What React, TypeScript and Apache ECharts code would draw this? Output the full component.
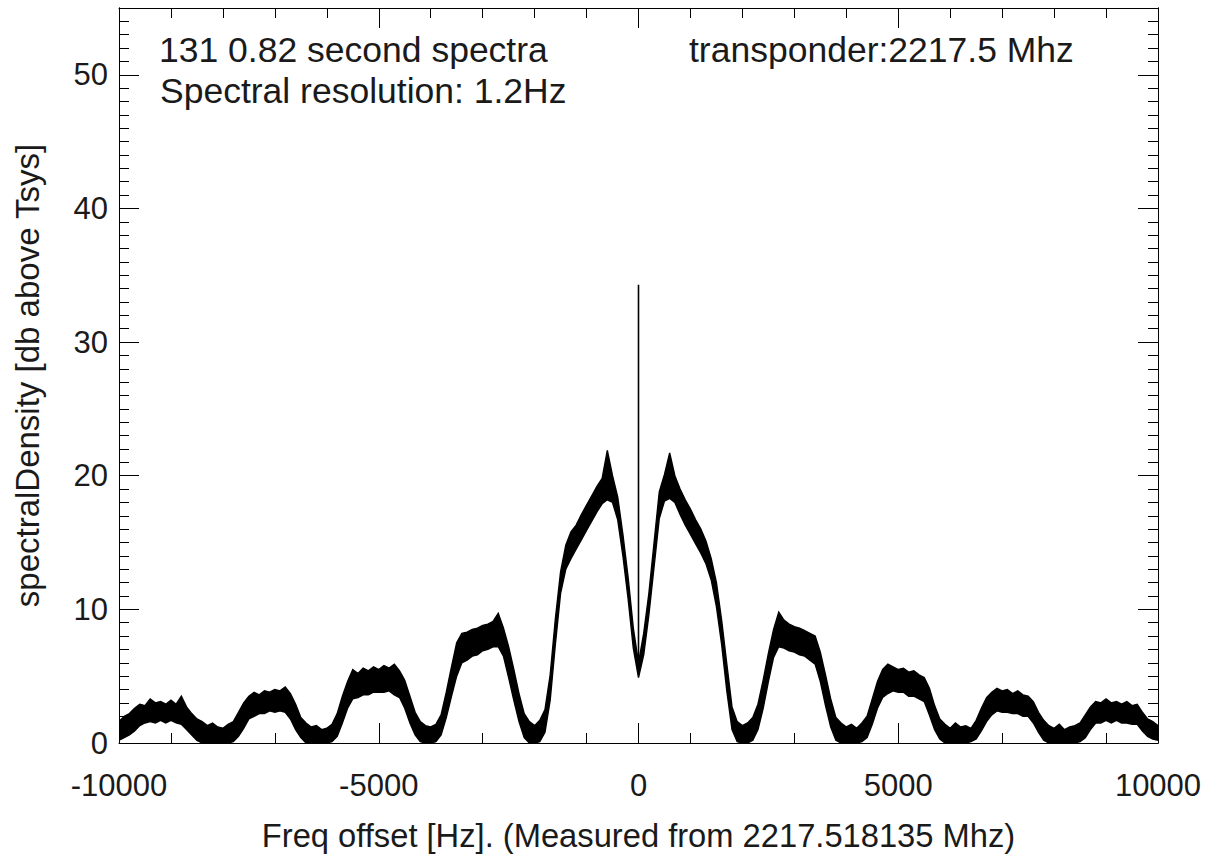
import React, { useEffect, useRef } from 'react';
import * as echarts from 'echarts';

// Frequency grid: -10000 Hz .. 10000 Hz, every 100 Hz
const FREQ_START = -10000;
const FREQ_STEP = 100;

// Lower edge of the noisy spectral band (dB above Tsys)
const LOWER = [
  0.2, 0.4, 0.6, 0.9, 1.3, 1.5, 1.6, 1.5, 1.7, 1.5,
  1.7, 1.5, 1.4, 1.0, 0.6, 0.2, 0.0, 0.0, 0.0, 0.0,
  0.0, 0.0, 0.1, 0.5, 1.1, 1.8, 2.0, 2.2, 2.2, 2.4,
  2.3, 2.4, 2.3, 1.8, 1.0, 0.4, 0.0, 0.0, 0.0, 0.0,
  0.0, 0.1, 0.5, 1.5, 2.6, 3.3, 3.4, 3.6, 3.6, 3.8,
  3.8, 3.8, 3.9, 3.6, 3.4, 2.6, 1.5, 0.6, 0.1, 0.0,
  0.0, 0.1, 0.6, 1.9, 3.5, 5.0, 6.0, 6.2, 6.5, 6.6,
  6.9, 7.0, 7.2, 7.2, 6.5, 4.9, 3.2, 1.6, 0.4, 0.0,
  0.0, 0.1, 0.8, 3.2, 7.4, 11.2, 13.0, 13.8, 14.5, 15.2,
  15.9, 16.6, 17.3, 17.9, 18.2, 18.0, 16.7, 14.0, 10.8, 7.1,
  4.9,
  6.6, 9.6, 13.2, 16.8, 18.1, 18.3, 18.0, 17.1, 16.3, 15.6,
  14.9, 14.2, 13.4, 12.2, 10.2, 7.4, 3.9, 1.0, 0.1, 0.0,
  0.0, 0.2, 1.0, 2.6, 4.6, 6.4, 7.2, 7.1, 6.9, 6.8,
  6.6, 6.5, 6.2, 5.9, 4.6, 2.8, 1.2, 0.2, 0.0, 0.0,
  0.0, 0.0, 0.1, 0.4, 1.4, 2.6, 3.4, 3.7, 3.9, 3.8,
  3.8, 3.5, 3.5, 3.3, 3.1, 2.1, 1.0, 0.3, 0.0, 0.0,
  0.0, 0.0, 0.0, 0.1, 0.3, 0.9, 1.6, 2.1, 2.4, 2.3,
  2.3, 2.2, 2.2, 2.0, 2.0, 1.5, 0.8, 0.2, 0.0, 0.0,
  0.0, 0.0, 0.0, 0.0, 0.1, 0.4, 1.0, 1.5, 1.5, 1.7,
  1.5, 1.7, 1.5, 1.5, 1.4, 1.4, 0.9, 0.5, 0.3, 0.2,
];

// Upper edge of the noisy spectral band (dB above Tsys)
const UPPER = [
  1.6, 2.0, 2.2, 2.6, 2.9, 2.8, 3.3, 3.0, 3.1, 2.9,
  3.2, 2.9, 3.5, 2.7, 2.2, 1.8, 1.6, 1.3, 1.5, 1.2,
  1.1, 1.4, 1.6, 2.3, 3.0, 3.5, 3.8, 3.6, 3.9, 3.8,
  4.0, 3.9, 4.2, 3.7, 2.9, 1.9, 1.5, 1.2, 1.3, 1.0,
  1.1, 1.4, 2.2, 3.5, 4.6, 5.5, 5.2, 5.6, 5.4, 5.7,
  5.5, 5.8, 5.6, 5.9, 5.4, 4.7, 3.5, 2.3, 1.6, 1.3,
  1.2, 1.4, 2.1, 3.8, 5.7, 7.5, 8.2, 8.3, 8.5, 8.6,
  8.8, 8.9, 9.1, 9.7, 8.6, 7.2, 5.5, 3.7, 2.2, 1.6,
  1.3, 1.7, 2.5, 5.1, 9.3, 12.8, 14.8, 15.8, 16.3, 17.1,
  17.8, 18.5, 19.2, 19.8, 21.9, 20.0, 18.4, 15.6, 12.4, 8.6,
  6.0,
  8.2, 11.2, 15.0, 18.8, 20.1, 21.7, 20.0, 19.0, 18.2, 17.5,
  16.7, 16.0, 15.1, 13.8, 12.0, 9.2, 5.9, 2.7, 1.6, 1.3,
  1.5, 1.9, 2.9, 4.7, 6.7, 8.5, 9.8, 9.2, 8.9, 8.7,
  8.6, 8.4, 8.2, 8.0, 6.8, 5.1, 3.3, 1.9, 1.5, 1.2,
  1.4, 1.1, 1.5, 2.0, 3.3, 4.6, 5.5, 5.9, 5.7, 5.5,
  5.6, 5.3, 5.4, 5.1, 4.9, 4.1, 2.8, 1.8, 1.4, 1.1,
  1.5, 1.2, 1.3, 1.1, 1.7, 2.6, 3.4, 3.8, 4.1, 3.9,
  4.0, 3.7, 3.9, 3.6, 3.5, 3.1, 2.3, 1.7, 1.3, 1.1,
  1.4, 1.0, 1.2, 1.3, 1.5, 2.1, 2.7, 3.1, 3.0, 3.3,
  3.0, 3.1, 2.9, 3.1, 2.8, 2.9, 2.3, 1.8, 1.6, 1.3,
];

// Carrier spike at 0 Hz
const SPIKE_FREQ = [0, 0];
const SPIKE_VAL = [6.0, 34.3];

const X_MIN = -10000;
const X_MAX = 10000;
const X_INTERVAL = 5000;
const Y_MIN = 0;
const Y_MAX = 55;
const Y_INTERVAL = 10;

const X_TITLE = 'Freq offset [Hz]. (Measured from 2217.518135 Mhz)';
const Y_TITLE = 'spectralDensity [db above Tsys]';
const NOTE_1 = '131 0.82 second spectra';
const NOTE_2 = 'Spectral resolution: 1.2Hz';
const NOTE_3 = 'transponder:2217.5 Mhz';

const FONT = '"Liberation Sans", Arial, Helvetica, sans-serif';
const TEXT_COLOR = '#1a1a1a';

export default function App() {
  const ref = useRef<HTMLDivElement>(null);

  useEffect(() => {
    if (!ref.current) return;
    const chart = echarts.init(ref.current, null, { renderer: 'svg' });
    const freqs = LOWER.map((_, i) => FREQ_START + i * FREQ_STEP);
    const spikeData = SPIKE_FREQ.map((f, i) => [f, SPIKE_VAL[i]]);

    const axisLine = { show: true, onZero: false, lineStyle: { color: '#000', width: 1 } };
    const noSplit = { show: false };

    const xBase = {
      type: 'value',
      min: X_MIN,
      max: X_MAX,
      interval: X_INTERVAL,
      axisLine,
      axisTick: { show: true, inside: true, length: 20, lineStyle: { color: '#000', width: 1 } },
      minorTick: { show: true, splitNumber: 5, length: 10, lineStyle: { color: '#000', width: 1 } },
      splitLine: noSplit,
      minorSplitLine: noSplit,
    };

    const yMajor = {
      type: 'value',
      min: Y_MIN,
      max: Y_MAX,
      interval: Y_INTERVAL,
      axisLine,
      axisTick: { show: true, inside: true, length: 20, lineStyle: { color: '#000', width: 1 } },
      splitLine: noSplit,
    };
    const yMinor = {
      type: 'value',
      min: Y_MIN,
      max: Y_MAX,
      interval: 1,
      axisLine,
      axisTick: { show: true, inside: true, length: 10, lineStyle: { color: '#000', width: 1 } },
      axisLabel: { show: false },
      splitLine: noSplit,
    };

    chart.setOption({
      animation: false,
      backgroundColor: '#fff',
      grid: { left: 119, right: 58, top: 8, bottom: 118, containLabel: false },
      xAxis: [
        {
          ...xBase,
          position: 'bottom',
          axisLabel: {
            fontSize: 31,
            color: TEXT_COLOR,
            fontFamily: FONT,
            margin: 27,
            formatter: (v: number) => String(v),
          },
          name: X_TITLE,
          nameLocation: 'middle',
          nameGap: 76,
          nameTextStyle: { fontSize: 32.7, color: TEXT_COLOR, fontFamily: FONT },
        },
        {
          ...xBase,
          position: 'top',
          axisLabel: { show: false },
        },
      ],
      yAxis: [
        {
          ...yMajor,
          position: 'left',
          axisLabel: {
            fontSize: 31,
            color: TEXT_COLOR,
            fontFamily: FONT,
            margin: 11,
            showMaxLabel: false,
            padding: [7, 0, 0, 0],
          },
          name: Y_TITLE,
          nameLocation: 'middle',
          nameGap: 75,
          nameTextStyle: { fontSize: 33, color: TEXT_COLOR, fontFamily: FONT },
        },
        { ...yMinor, position: 'left' },
        { ...yMajor, position: 'right', axisLabel: { show: false } },
        { ...yMinor, position: 'right' },
      ],
      series: [
        {
          type: 'custom',
          name: 'spectrum',
          coordinateSystem: 'cartesian2d',
          xAxisIndex: 0,
          yAxisIndex: 0,
          data: [[0, 0]],
          encode: { x: 0, y: 1 },
          clip: true,
          silent: true,
          z: 2,
          renderItem: (params: any, api: any) => {
            if (params.dataIndex !== 0) return null;
            const pts: number[][] = [];
            for (let i = 0; i < freqs.length; i++) pts.push(api.coord([freqs[i], UPPER[i]]));
            for (let i = freqs.length - 1; i >= 0; i--) pts.push(api.coord([freqs[i], LOWER[i]]));
            return {
              type: 'polygon',
              shape: { points: pts },
              style: { fill: '#000', stroke: '#000', lineWidth: 1.4, lineJoin: 'miter' },
            };
          },
        },
        {
          type: 'line',
          name: 'carrier',
          data: spikeData,
          symbol: 'none',
          lineStyle: { color: '#000', width: 1.6 },
          silent: true,
          z: 3,
        },
      ],
      graphic: [
        {
          type: 'text',
          x: 159,
          y: 50,
          style: { text: NOTE_1, font: `35.5px ${FONT}`, fill: TEXT_COLOR, verticalAlign: 'middle' },
        },
        {
          type: 'text',
          x: 160,
          y: 91,
          style: { text: NOTE_2, font: `35.5px ${FONT}`, fill: TEXT_COLOR, verticalAlign: 'middle' },
        },
        {
          type: 'text',
          x: 689,
          y: 50,
          style: { text: NOTE_3, font: `35.5px ${FONT}`, fill: TEXT_COLOR, verticalAlign: 'middle' },
        },
      ],
    });

    return () => {
      chart.dispose();
    };
  }, []);

  return (
    <div
      ref={ref}
      style={{ position: 'fixed', left: 0, top: 0, width: 1216, height: 861, background: '#fff' }}
    />
  );
}
